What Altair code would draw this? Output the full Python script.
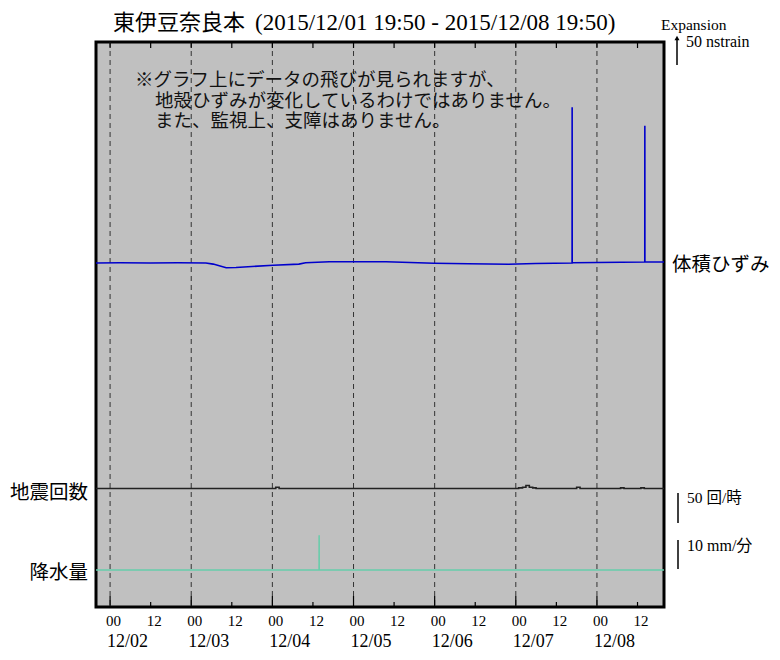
import altair as alt
import pandas as pd

# ---------------- data ----------------
start = alt.DateTime(year=2015, month=12, date=1, hours=19, minutes=50)
end = alt.DateTime(year=2015, month=12, date=8, hours=19, minutes=50)

strain_time = ["2015-12-01T19:50", "2015-12-02T03:00", "2015-12-02T11:50", "2015-12-02T20:00",
               "2015-12-03T04:20", "2015-12-03T06:30", "2015-12-03T10:20", "2015-12-03T13:15",
               "2015-12-04T00:15", "2015-12-04T07:50", "2015-12-04T09:50", "2015-12-04T16:50",
               "2015-12-05T09:40", "2015-12-05T23:50", "2015-12-06T10:00", "2015-12-06T21:50",
               "2015-12-07T05:50", "2015-12-07T16:39", "2015-12-07T16:40", "2015-12-07T16:41",
               "2015-12-08T00:00", "2015-12-08T14:09", "2015-12-08T14:10", "2015-12-08T14:11",
               "2015-12-08T19:50"]
strain_val = [0, 0.5, 0, 0.3,
              0, -2, -8.4, -8,
              -4, -2, 0.5, 2.3,
              2.3, -0.5, -1.5, -2.3,
              -1, 0, 278, 0.3,
              0.8, 1.8, 245, 1.8,
              1.8]

seis_time = ["2015-12-01T19:50", "2015-12-04T01:00", "2015-12-04T02:00", "2015-12-07T00:50",
             "2015-12-07T02:00", "2015-12-07T03:00", "2015-12-07T04:00", "2015-12-07T05:00",
             "2015-12-07T06:00", "2015-12-07T18:00", "2015-12-07T19:00", "2015-12-08T07:00",
             "2015-12-08T08:00", "2015-12-08T13:00", "2015-12-08T14:00", "2015-12-08T19:50"]
seis_val = [0, 2, 0, 1, 2, 5, 2, 1, 0, 2, 0, 1, 0, 1, 0, 0]

rain_time = ["2015-12-01T19:50", "2015-12-04T13:49", "2015-12-04T13:50", "2015-12-04T13:51",
             "2015-12-08T19:50"]
rain_val = [0, 0, 12, 0, 0]

day_time = ["2015-12-02T00:00", "2015-12-03T00:00", "2015-12-04T00:00", "2015-12-05T00:00",
            "2015-12-06T00:00", "2015-12-07T00:00", "2015-12-08T00:00"]
day_label = ["12/02", "12/03", "12/04", "12/05", "12/06", "12/07", "12/08"]
noon_time = ["2015-12-02T12:00", "2015-12-03T12:00", "2015-12-04T12:00", "2015-12-05T12:00",
             "2015-12-06T12:00", "2015-12-07T12:00", "2015-12-08T12:00"]

title_jp = "東伊豆奈良本"
title_period = "(2015/12/01 19:50 - 2015/12/08 19:50)"
note_1 = "※グラフ上にデータの飛びが見られますが、"
note_2 = "地殻ひずみが変化しているわけではありません。"
note_3 = "また、監視上、支障はありません。"

# ---------------- frames ----------------
strain_df = pd.DataFrame({"t": strain_time, "v": strain_val})
seis_df = pd.DataFrame({"t": seis_time, "v": seis_val})
rain_df = pd.DataFrame({"t": rain_time, "v": rain_val})
day_df = pd.DataFrame({"t": day_time, "label": day_label})
noon_df = pd.DataFrame({"t": noon_time})
one = pd.DataFrame({"a": [0]})

SERIF_JP = "Liberation Serif, Noto Sans CJK JP"
JP = "Noto Sans CJK JP"

hour_values = []
for d in range(2, 9):
    hour_values.append(alt.DateTime(year=2015, month=12, date=d, hours=0))
    hour_values.append(alt.DateTime(year=2015, month=12, date=d, hours=12))

x_scale = alt.Scale(domain=[start, end])
x_axis = alt.Axis(values=hour_values, labelExpr="timeFormat(datum.value, '%H')",
                  ticks=False, domain=False, grid=False, title=None,
                  labelFont="Liberation Serif", labelFontSize=15, labelPadding=6,
                  labelColor="#000", labelFlush=False, labelOverlap=False, labelOffset=3)


def X():
    return alt.X("t:T", scale=x_scale, axis=x_axis)


W, H = 568, 565

grid = alt.Chart(day_df).mark_rule(color="#333", strokeDash=[5, 4], strokeWidth=1).encode(x=X())

strain = alt.Chart(strain_df).mark_line(color="#0000cc", strokeWidth=1.6).encode(
    x=X(), y=alt.Y("v:Q", scale=alt.Scale(domain=[-614.3, 394.6], nice=False, zero=False), axis=None))
seis = alt.Chart(seis_df).mark_line(color="#222", strokeWidth=1.6, interpolate="step-after").encode(
    x=X(), y=alt.Y("v:Q", scale=alt.Scale(domain=[-197.5, 744.2], nice=False, zero=False), axis=None))
rain = alt.Chart(rain_df).mark_line(color="#66cdaa", strokeWidth=1.5).encode(
    x=X(), y=alt.Y("v:Q", scale=alt.Scale(domain=[-12.76, 182.07], nice=False, zero=False), axis=None))

tick_major = alt.Chart(day_df).mark_rule(color="#000", strokeWidth=1.2).encode(
    x=X(), y=alt.value(H), y2=alt.value(H - 11))
tick_minor = alt.Chart(noon_df).mark_rule(color="#000", strokeWidth=1.2).encode(
    x=X(), y=alt.value(H), y2=alt.value(H - 5))
tick_top_major = alt.Chart(day_df).mark_rule(color="#000", strokeWidth=1.2).encode(
    x=X(), y=alt.value(0), y2=alt.value(6))
tick_top_minor = alt.Chart(noon_df).mark_rule(color="#000", strokeWidth=1.2).encode(
    x=X(), y=alt.value(0), y2=alt.value(6))

date_labels = alt.Chart(day_df).mark_text(align="left", baseline="middle", dx=-3,
                                          font="Liberation Serif", fontSize=18, color="#000").encode(
    x=X(), y=alt.value(600), text="label:N")


def txt(text, x, y, size, align="left", font=SERIF_JP, color="#000"):
    return alt.Chart(one).mark_text(align=align, baseline="middle", font=font, fontSize=size,
                                    color=color).encode(
        x=alt.value(x), y=alt.value(y), text=alt.value(text))


title_a = txt(title_jp, 17, -19, 22, font=JP)
title_b = txt(title_period, 159, -19, 23, font="Liberation Serif")

note_a = txt(note_1, 39, 38, 18.5, font=JP, color="#111")
note_b = txt(note_2, 59, 58.5, 18.5, font=JP, color="#111")
note_c = txt(note_3, 59, 79, 18.5, font=JP, color="#111")

lab_strain = txt("体積ひずみ", 576, 223, 19.5, font=JP)
lab_seis = txt("地震回数", -8, 451, 19.5, align="right", font=JP)
lab_rain = txt("降水量", -8, 531, 19.5, align="right", font=JP)

lab_exp = txt("Expansion", 565, -17, 15.5)
lab_ns = txt("50 nstrain", 590, 0, 16)
lab_sc = txt("50 回/時", 591, 456, 15.5)
lab_rn = txt("10 mm/分", 591, 504, 16)

arrow = alt.Chart(one).mark_rule(color="#000", strokeWidth=1.5).encode(
    x=alt.value(581), y=alt.value(23), y2=alt.value(-4))
arrow_head = alt.Chart(one).mark_point(shape="triangle-up", filled=True, color="#000", size=25,
                                       opacity=1).encode(x=alt.value(581), y=alt.value(-4))
bar_sc = alt.Chart(one).mark_rule(color="#000", strokeWidth=1.5).encode(
    x=alt.value(582), y=alt.value(451), y2=alt.value(481))
bar_rn = alt.Chart(one).mark_rule(color="#000", strokeWidth=1.5).encode(
    x=alt.value(582), y=alt.value(498), y2=alt.value(527))

chart = alt.layer(
    grid, strain, seis, rain,
    tick_major, tick_minor, tick_top_major, tick_top_minor,
    date_labels, title_a, title_b, note_a, note_b, note_c, lab_strain, lab_seis, lab_rain,
    lab_exp, lab_ns, lab_sc, lab_rn, arrow, arrow_head, bar_sc, bar_rn,
).resolve_scale(y="independent").properties(
    width=W, height=H,
    padding={"left": 88, "top": 34, "right": 108, "bottom": 45},
    autosize=alt.AutoSizeParams(type="none"),
    background="white",
).configure_view(fill="#c0c0c0", stroke="#000", strokeWidth=3)

chart.save("out.html", embed_options={"renderer": "svg", "actions": False})
